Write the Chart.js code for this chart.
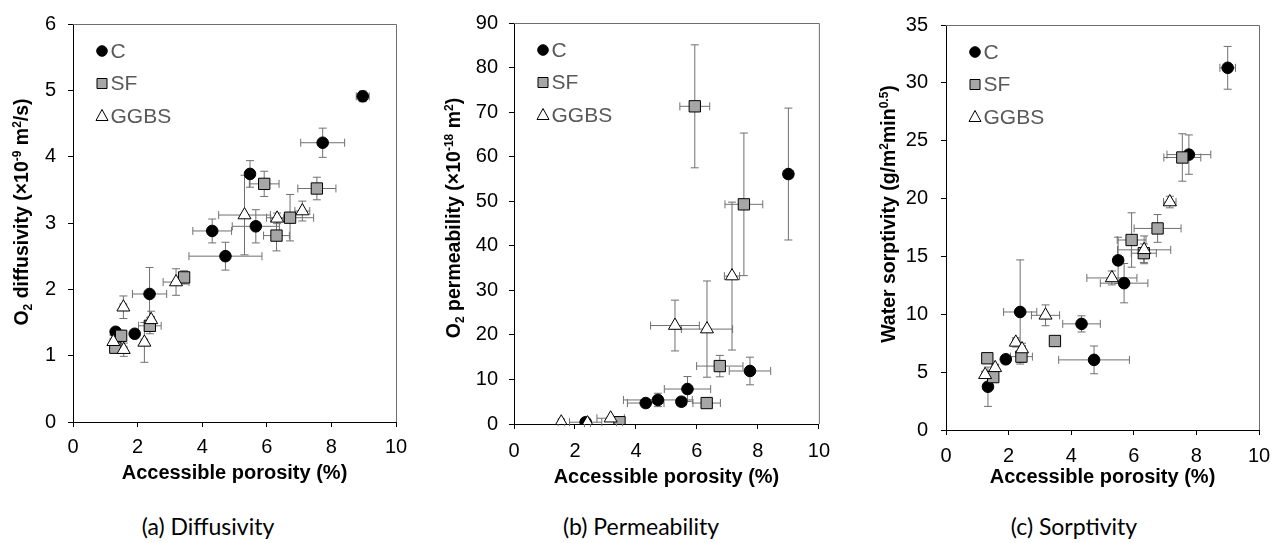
<!DOCTYPE html>
<html>
<head>
<meta charset="utf-8">
<script src="https://cdn.jsdelivr.net/npm/chart.js@4.4.0/dist/chart.umd.min.js"></script>
<style>
  body { margin: 0; background: #fff; width: 1283px; height: 543px; position: relative; overflow: hidden; }
  canvas { position: absolute; top: 0; }
  .cap { position: absolute; top: 511px; font-family: Lato, 'Open Sans', sans-serif; font-size: 23px; line-height: 30px; white-space: nowrap; transform: translateX(-50%); color: #000; }
</style>
</head>
<body>
<canvas id="diffChart" width="420" height="500" style="left:0px"></canvas>
<canvas id="permChart" width="410" height="500" style="left:430px"></canvas>
<canvas id="sorpChart" width="423" height="500" style="left:860px"></canvas>
<div class="cap" style="left:208px">(a) Diffusivity</div>
<div class="cap" style="left:641px">(b) Permeability</div>
<div class="cap" style="left:1074px">(c) Sorptivity</div>
<script>
// each point: [accessible porosity %, value, porosity error, value error]
const seriesNames = ['C', 'SF', 'GGBS'];

// (a) O2 diffusivity (x10^-9 m2/s)
const diffC = [[8.97, 4.91, 0.2, 0.08], [7.73, 4.21, 0.68, 0.22], [5.48, 3.74, 0.12, 0.2], [5.66, 2.95, 0.73, 0.25],
  [4.31, 2.88, 0.6, 0.18], [4.72, 2.50, 1.13, 0.21], [2.37, 1.93, 0.53, 0.4], [1.91, 1.33, 0.05, 0.05], [1.32, 1.36, 0.05, 0.05]];
const diffSF = [[5.92, 3.59, 0.46, 0.19], [7.55, 3.52, 0.59, 0.17], [6.72, 3.08, 0.73, 0.35], [6.30, 2.81, 0.4, 0.23],
  [3.44, 2.18, 0.1, 0.1], [2.38, 1.45, 0.35, 0.12], [1.49, 1.30, 0.1, 0.08], [1.31, 1.12, 0.1, 0.08]];
const diffG = [[7.10, 3.18, 0.23, 0.15], [6.32, 3.07, 0.2, 0.08], [5.31, 3.12, 0.8, 0.6], [3.19, 2.11, 0.4, 0.2],
  [1.56, 1.73, 0.1, 0.17], [2.42, 1.54, 0.1, 0.13], [2.21, 1.20, 0.1, 0.3], [1.25, 1.21, 0.1, 0.1], [1.57, 1.09, 0.1, 0.1]];

// (b) O2 permeability (x10^-18 m2)
const permC = [[9.0, 56.1, 0.15, 14.8], [7.74, 11.9, 0.68, 3.1], [5.69, 7.85, 0.76, 2.8], [5.49, 5.0, 0.15, 1.0],
  [4.72, 5.4, 1.13, 1.5], [4.32, 4.7, 0.6, 0.8], [2.35, 0.4, 0.53, 0.2]];
const permSF = [[5.93, 71.3, 0.49, 13.8], [7.54, 49.3, 0.62, 16.0], [6.75, 13.0, 0.76, 2.4], [6.32, 4.7, 0.45, 0.8],
  [3.46, 0.4, 0.1, 0.2]];
const permG = [[7.15, 33.2, 0.25, 16.6], [5.28, 22.1, 0.8, 5.7], [6.33, 21.3, 0.84, 10.8], [3.17, 1.3, 0.45, 0.3],
  [2.41, 0.2, 0.1, 0.1], [1.55, 0.4, 0.1, 0.1]];

// (c) water sorptivity (g/m2min^0.5)
const sorpC = [[9.0, 31.3, 0.25, 1.85], [7.76, 23.8, 0.7, 1.7], [5.5, 14.66, 0.15, 2.0], [5.69, 12.69, 0.76, 1.7],
  [2.37, 10.2, 0.53, 4.5], [4.33, 9.17, 0.6, 0.7], [4.73, 6.06, 1.13, 1.2], [1.91, 6.11, 0.1, 0.3], [1.34, 3.74, 0.1, 1.7]];
const sorpSF = [[7.55, 23.55, 0.59, 2.05], [6.76, 17.42, 0.75, 1.2], [5.93, 16.42, 0.46, 2.35], [6.32, 15.28, 0.4, 0.8],
  [3.48, 7.69, 0.1, 0.3], [2.41, 6.34, 0.35, 0.5], [1.32, 6.2, 0.1, 0.3], [1.51, 4.57, 0.1, 0.4]];
const sorpG = [[7.15, 19.7, 0.2, 0.5], [6.33, 15.57, 0.85, 1.2], [5.3, 13.14, 0.8, 0.6], [3.18, 9.91, 0.45, 0.9],
  [2.23, 7.57, 0.1, 0.4], [2.43, 7.0, 0.1, 0.5], [1.57, 5.37, 0.1, 0.3], [1.25, 4.77, 0.1, 0.3]];

const FONT = "'Liberation Sans', Arial, sans-serif";
Chart.defaults.font.family = FONT;

const markers = [
  { style: 'circle', r: 5.8, fill: '#000' },
  { style: 'rect', r: 8, fill: '#a6a6a6' },
  { style: 'triangle', r: 7.5, fill: '#fff' }
];

// box, error bars
const frameErr = {
  id: 'frameErr',
  beforeDatasetsDraw(chart) {
    const { ctx, chartArea: a, scales: { x, y } } = chart;
    ctx.save();
    ctx.strokeStyle = '#6e6e6e';
    ctx.lineWidth = 1;
    ctx.beginPath();
    ctx.moveTo(a.left, a.top + 0.5);
    ctx.lineTo(a.right + 0.5, a.top + 0.5);
    ctx.lineTo(a.right + 0.5, a.bottom);
    ctx.stroke();

    ctx.strokeStyle = '#707070';
    chart.data.datasets.forEach(ds => {
      ds.errs.forEach(p => {
        const px = x.getPixelForValue(p[0]), py = y.getPixelForValue(p[1]);
        const x1 = x.getPixelForValue(p[0] - p[2]), x2 = x.getPixelForValue(p[0] + p[2]);
        const y1 = y.getPixelForValue(p[1] - p[3]), y2 = y.getPixelForValue(p[1] + p[3]);
        ctx.beginPath();
        ctx.moveTo(x1, py); ctx.lineTo(x2, py);
        ctx.moveTo(x1, py - 4); ctx.lineTo(x1, py + 4);
        ctx.moveTo(x2, py - 4); ctx.lineTo(x2, py + 4);
        ctx.moveTo(px, y1); ctx.lineTo(px, y2);
        ctx.moveTo(px - 4, y1); ctx.lineTo(px + 4, y1);
        ctx.moveTo(px - 4, y2); ctx.lineTo(px + 4, y2);
        ctx.stroke();
      });
    });
    ctx.restore();
  }
};

// legend in the upper left of the plot
const legendBox = {
  id: 'legendBox',
  afterDraw(chart) {
    const { ctx, chartArea: a } = chart;
    ctx.save();
    ctx.lineWidth = 1;
    ctx.strokeStyle = '#000';
    seriesNames.forEach((name, i) => {
      const cx = a.left + 29, cy = a.top + 27 + i * 32.5;
      ctx.beginPath();
      if (i === 0) {
        ctx.arc(cx, cy, 5.3, 0, Math.PI * 2);
      } else if (i === 1) {
        ctx.rect(cx - 5, cy - 5, 10, 10);
      } else {
        ctx.moveTo(cx, cy - 6.5);
        ctx.lineTo(cx + 6, cy + 4.5);
        ctx.lineTo(cx - 6, cy + 4.5);
        ctx.closePath();
      }
      ctx.fillStyle = markers[i].fill;
      ctx.fill();
      ctx.stroke();
      ctx.fillStyle = '#595959';
      ctx.font = '21px ' + FONT;
      ctx.textBaseline = 'middle';
      ctx.fillText(name, cx + 8.5, cy + 1);
    });
    ctx.restore();
  }
};

// rotated y title with sub/superscripts
const yTitle = {
  id: 'yTitle',
  afterDraw(chart, args, opts) {
    const ctx = chart.ctx;
    ctx.save();
    ctx.translate(opts.x, opts.y);
    ctx.rotate(-Math.PI / 2);
    ctx.fillStyle = '#000';
    ctx.textBaseline = 'alphabetic';
    const fontFor = s => s === 0 ? 'bold 19.5px ' + FONT : 'bold 12px ' + FONT;
    let total = 0;
    opts.parts.forEach(([t, s]) => { ctx.font = fontFor(s); total += ctx.measureText(t).width; });
    let cx = -total / 2;
    opts.parts.forEach(([t, s]) => {
      ctx.font = fontFor(s);
      const dy = s === 1 ? -7 : (s === -1 ? 4 : 0);
      ctx.fillText(t, cx, 7 + dy);
      cx += ctx.measureText(t).width;
    });
    ctx.restore();
  }
};

function makePanel(id, c) {
  new Chart(document.getElementById(id), {
    type: 'scatter',
    data: {
      datasets: seriesNames.map((name, i) => ({
        label: name,
        data: c.series[i].map(p => ({ x: p[0], y: p[1] })),
        errs: c.series[i],
        order: 3 - i,
        pointStyle: markers[i].style,
        pointRadius: markers[i].r,
        pointHoverRadius: markers[i].r,
        pointBackgroundColor: markers[i].fill,
        pointBorderColor: '#000',
        pointBorderWidth: 1
      }))
    },
    options: {
      responsive: false,
      animation: false,
      layout: { padding: { left: 0, top: c.top, right: c.right, bottom: 0 } },
      scales: {
        x: {
          type: 'linear', min: 0, max: 10,
          afterFit: s => { s.height = 500 - c.bottom; },
          ticks: { stepSize: 2, autoSkip: false, color: '#000', padding: c.xPad, font: { size: 20 } },
          grid: { drawOnChartArea: false, drawTicks: true, tickLength: 5, color: '#000' },
          border: { color: '#000' },
          title: { display: true, text: 'Accessible porosity (%)', color: '#000',
                   font: { size: 20, weight: 'bold' }, padding: { top: 0, bottom: c.xTitlePad } }
        },
        y: {
          type: 'linear', min: 0, max: c.yMax,
          afterFit: s => { s.width = c.left; },
          ticks: { stepSize: c.yStep, autoSkip: false, color: '#000', padding: c.yPad, font: { size: 20 } },
          grid: { drawOnChartArea: false, drawTicks: true, tickLength: 5, color: '#000' },
          border: { color: '#000' }
        }
      },
      plugins: {
        legend: { display: false },
        tooltip: { enabled: false },
        yTitle: { parts: c.yTitle, x: c.titleX, y: c.titleY }
      }
    },
    plugins: [frameErr, legendBox, yTitle]
  });
}

makePanel('diffChart', {
  series: [diffC, diffSF, diffG], yMax: 6, yStep: 1,
  left: 73, top: 19, right: 24, bottom: 422, xPad: 8, yPad: 12, xTitlePad: 15,
  titleX: 21, titleY: 212,
  yTitle: [['O', 0], ['2', -1], [' diffusivity (\u00d710', 0], ['-9', 1], [' m', 0], ['2', 1], ['/s)', 0]]
});
makePanel('permChart', {
  series: [permC, permSF, permG], yMax: 90, yStep: 10,
  left: 84, top: 20, right: 18, bottom: 424, xPad: 10, yPad: 11, xTitlePad: 11,
  titleX: 23, titleY: 218,
  yTitle: [['O', 0], ['2', -1], [' permeability (\u00d710', 0], ['-18', 1], [' m', 0], ['2', 1], [')', 0]]
});
makePanel('sorpChart', {
  series: [sorpC, sorpSF, sorpG], yMax: 35, yStep: 5,
  left: 86, top: 21, right: 24, bottom: 430, xPad: 9, yPad: 13, xTitlePad: 11,
  titleX: 28, titleY: 214,
  yTitle: [['Water sorptivity (g/m', 0], ['2', 1], ['min', 0], ['0.5', 1], [')', 0]]
});
</script>
</body>
</html>
